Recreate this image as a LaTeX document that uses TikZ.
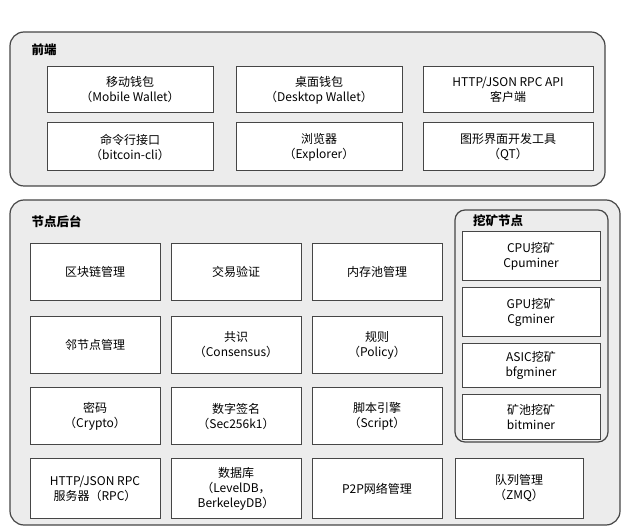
\documentclass[tikz,border=0pt]{standalone}
\usepackage{fontspec}
\setmainfont{Noto Sans CJK SC}
\usepackage{tikz}
\usetikzlibrary{positioning}
\definecolor{panelgray}{RGB}{236,236,236}
\definecolor{linegray}{RGB}{70,70,70}
\tikzset{
  panel/.style={draw=linegray, line width=1.2pt, rounded corners=14pt, fill=panelgray},
  box/.style={draw=linegray, line width=1pt, fill=white, align=center,
    font=\fontsize{12}{15}\selectfont, inner sep=0pt},
  title/.style={font=\fontsize{12.5}{15}\selectfont\bfseries, anchor=west}
}
\begin{document}
\begin{tikzpicture}[x=1pt,y=-1pt]
  \useasboundingbox (0,0) rectangle (635,529);

  % front end
  \draw[panel] (10,32) rectangle (605,186);
  \node[title] (fetitle) at (28,50) {前端};
  \node[box, minimum width=166pt, minimum height=46pt] (mobile) at (130,90) {移动钱包\\（Mobile Wallet）};
  \node[box, minimum width=166pt, minimum height=46pt, right=22pt of mobile] (desktop) {桌面钱包\\（Desktop Wallet）};
  \node[box, minimum width=170pt, minimum height=46pt, right=20pt of desktop] (rpcapi) {HTTP/JSON RPC API\\客户端};
  \node[box, minimum width=166pt, minimum height=48pt, below=9pt of mobile] (cli) {命令行接口\\（bitcoin-cli）};
  \node[box, minimum width=166pt, minimum height=48pt, below=9pt of desktop] (explorer) {浏览器\\（Explorer）};
  \node[box, minimum width=170pt, minimum height=48pt, below=9pt of rpcapi] (qt) {图形界面开发工具\\（QT）};

  % node backend
  \draw[panel] (10,200) rectangle (620,525);
  \node[title] (betitle) at (28,222) {节点后台};
  \node[box, minimum width=130pt, minimum height=57pt] (chain) at (95,272) {区块链管理};
  \node[box, minimum width=130pt, minimum height=57pt, right=10pt of chain] (txver) {交易验证};
  \node[box, minimum width=130pt, minimum height=57pt, right=10pt of txver] (mempool) {内存池管理};
  \node[box, minimum width=130pt, minimum height=57pt, below=15pt of chain] (peer) {邻节点管理};
  \node[box, minimum width=130pt, minimum height=57pt, below=15pt of txver] (consensus) {共识\\（Consensus）};
  \node[box, minimum width=130pt, minimum height=57pt, below=15pt of mempool] (policy) {规则\\（Policy）};
  \node[box, minimum width=130pt, minimum height=57pt, below=13pt of peer] (crypto) {密码\\（Crypto）};
  \node[box, minimum width=130pt, minimum height=57pt, below=13pt of consensus] (secp) {数字签名\\（Sec256k1）};
  \node[box, minimum width=130pt, minimum height=57pt, below=13pt of policy] (script) {脚本引擎\\（Script）};
  \node[box, minimum width=130pt, minimum height=60pt, below=13pt of crypto] (rpcsrv) {HTTP/JSON RPC\\服务器（RPC）};
  \node[box, minimum width=130pt, minimum height=60pt, below=13pt of secp] (leveldb) {数据库\\（LevelDB，\\BerkeleyDB）};
  \node[box, minimum width=130pt, minimum height=60pt, below=13pt of script] (p2p) {P2P网络管理};
  \node[box, minimum width=128pt, minimum height=60pt, right=12pt of p2p] (zmq) {队列管理\\（ZMQ）};

  % mining
  \draw[panel, rounded corners=10pt] (455,210) rectangle (608,442);
  \node[title, anchor=center] (mtitle) at (498,221) {挖矿节点};
  \node[box, minimum width=138pt, minimum height=49pt] (cpu) at (531,256) {CPU挖矿\\Cpuminer};
  \node[box, minimum width=138pt, minimum height=49pt, below=6pt of cpu] (gpu) {GPU挖矿\\Cgminer};
  \node[box, minimum width=138pt, minimum height=44pt, below=6pt of gpu] (asic) {ASIC挖矿\\bfgminer};
  \node[box, minimum width=138pt, minimum height=45pt, below=6pt of asic] (pool) {矿池挖矿\\bitminer};
\end{tikzpicture}
\end{document}
